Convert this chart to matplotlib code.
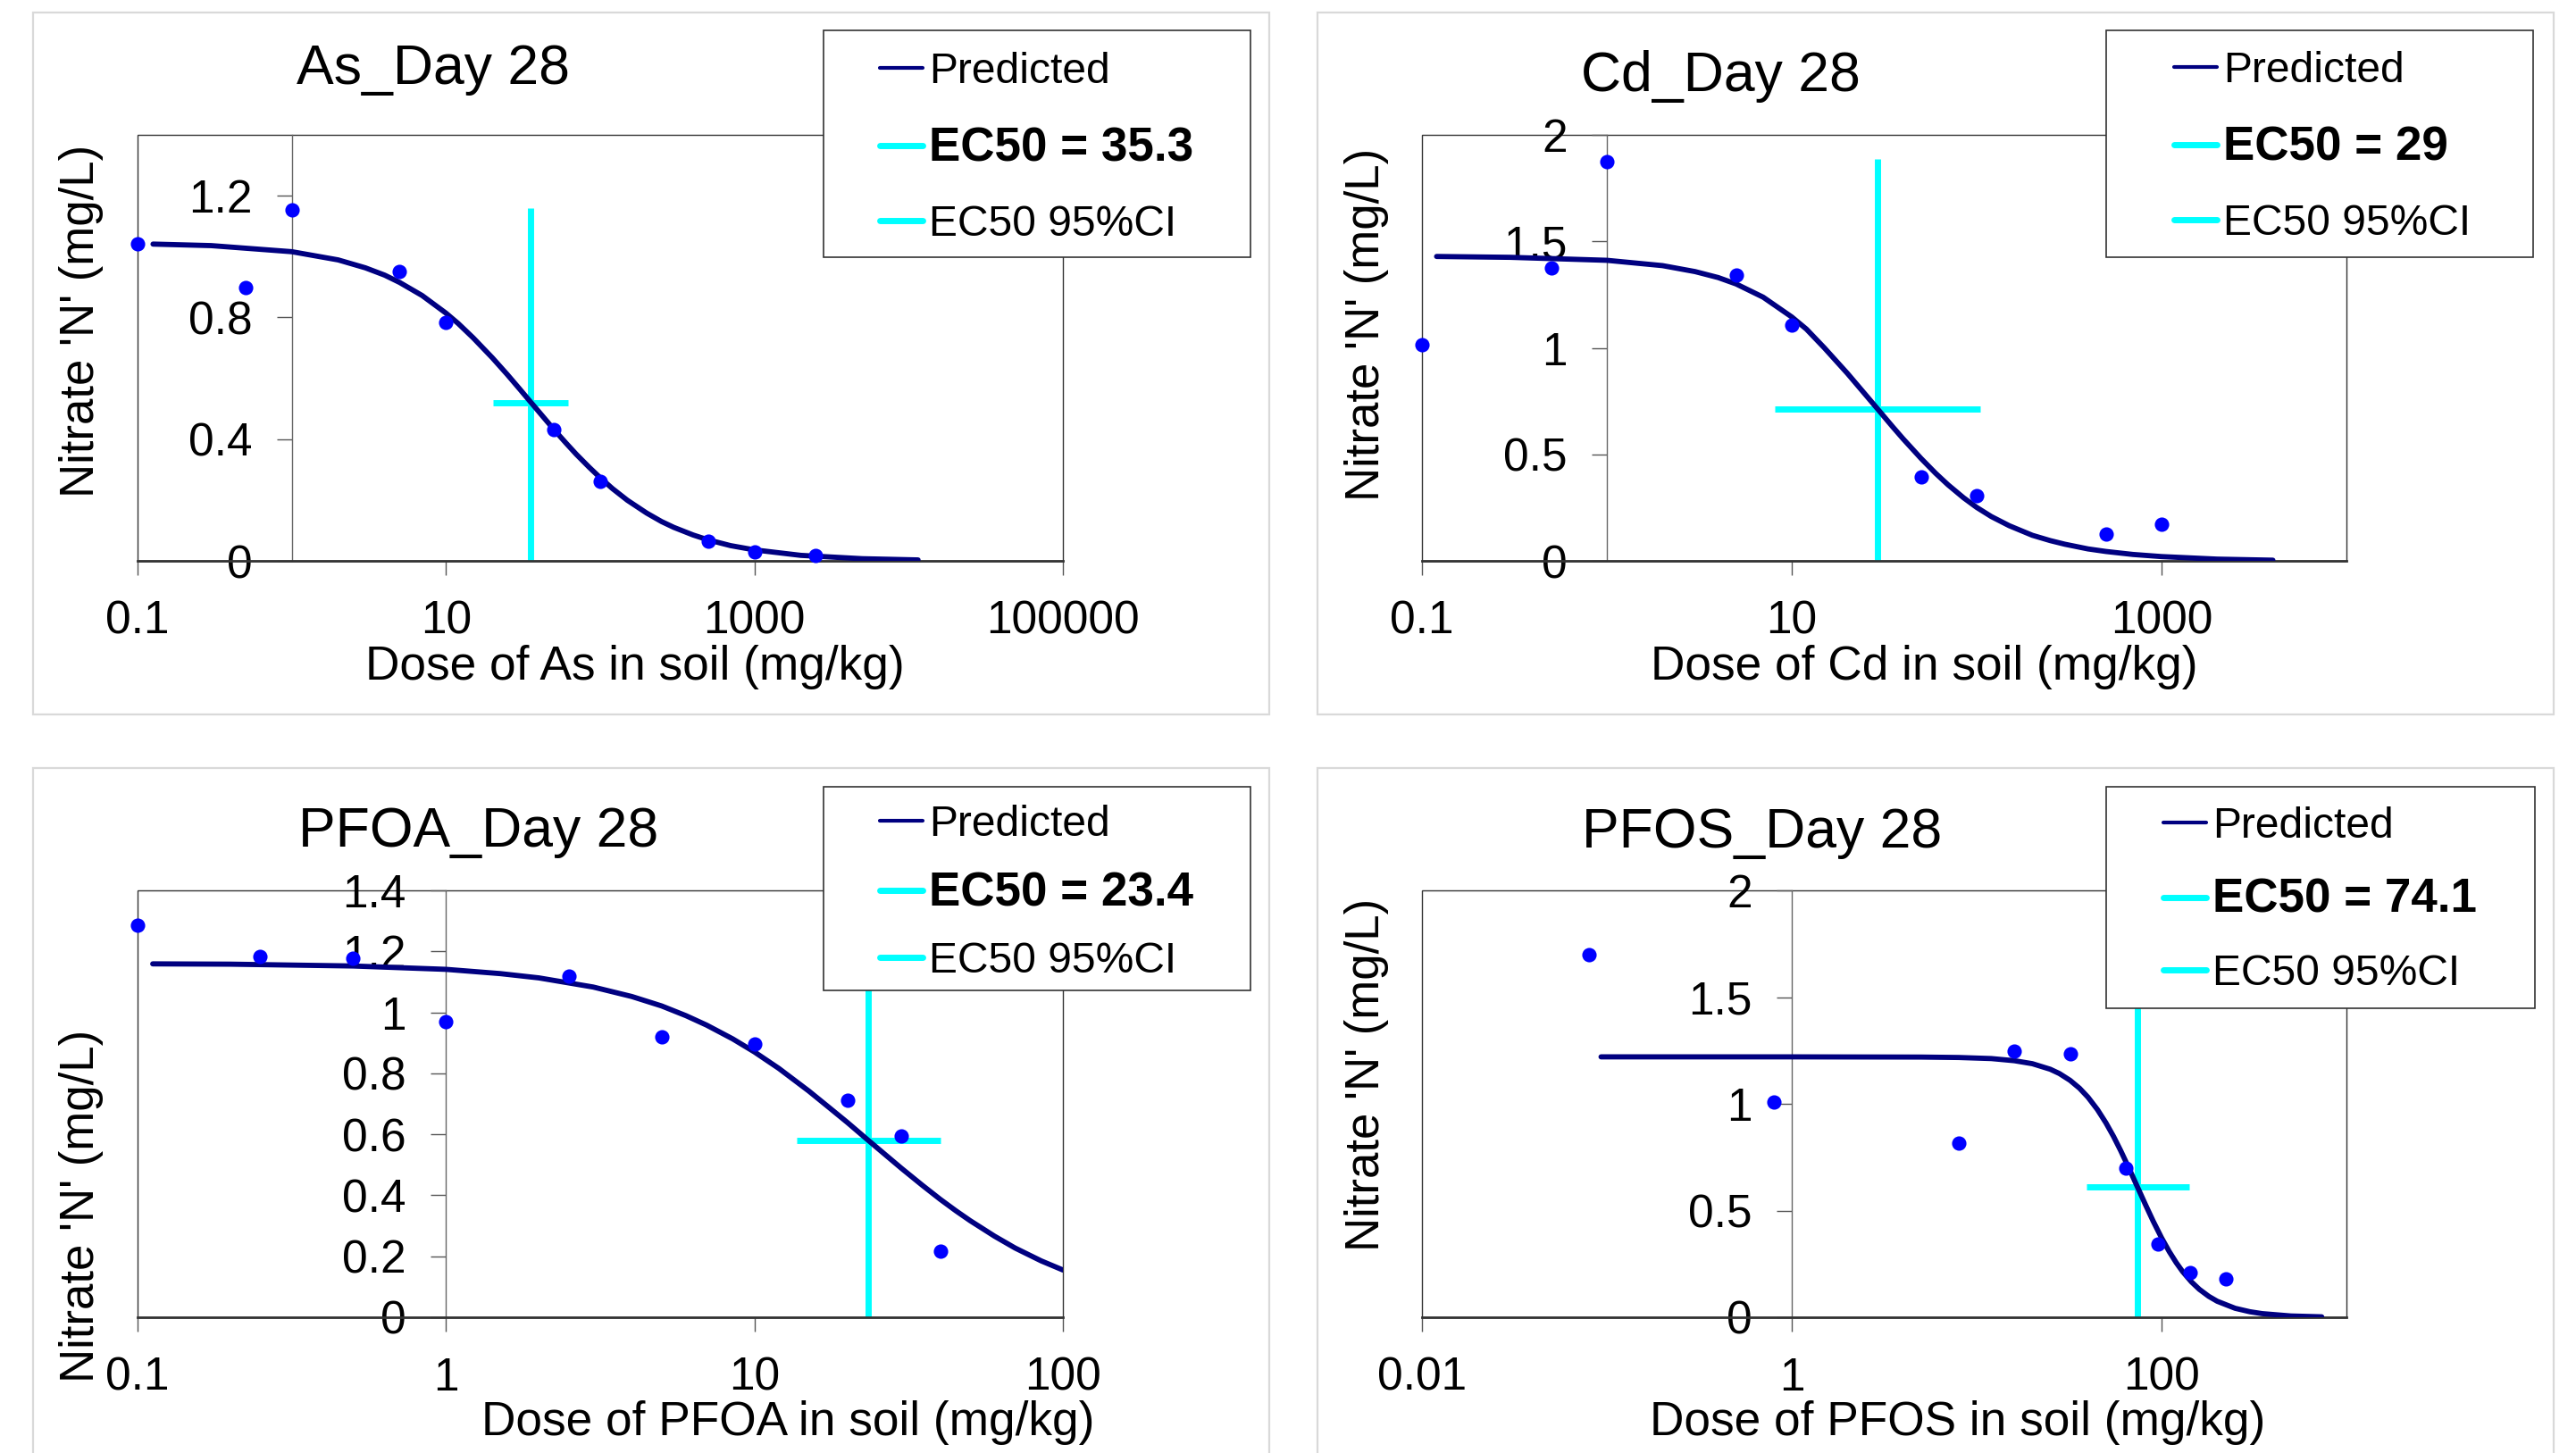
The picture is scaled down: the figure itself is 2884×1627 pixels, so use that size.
import matplotlib.pyplot as plt
from matplotlib.lines import Line2D
from matplotlib.patches import Rectangle
from matplotlib.ticker import FixedLocator, FixedFormatter, NullLocator

plt.rcParams['font.family'] = ['Liberation Sans', 'DejaVu Sans']

NAVY = '#000080'
CYAN = '#00FFFF'
BLUE = '#0000FF'

# ---- As ----
as_dose = [0.1, 0.5, 1, 5, 10, 50, 100, 500, 1000, 2500]
as_obs = [1.041, 0.898, 1.152, 0.950, 0.785, 0.431, 0.260, 0.064, 0.029, 0.019]
as_fit_x = [0.126, 0.3, 1, 2, 3, 4, 5, 7, 10, 12, 15, 20, 25, 30, 35.3, 40,
            50, 60, 70, 85, 100, 120, 150, 200, 250, 300, 400, 500, 700,
            1000, 2000, 5000, 11500]
as_fit_y = [1.041, 1.036, 1.016, 0.989, 0.963, 0.939, 0.915, 0.872, 0.814,
            0.780, 0.733, 0.667, 0.612, 0.565, 0.5225, 0.490, 0.432, 0.387,
            0.350, 0.307, 0.273, 0.2375, 0.199, 0.157, 0.129, 0.110, 0.085,
            0.069, 0.050, 0.036, 0.018, 0.007, 0.003]
as_ec50 = 35.3
as_ec50_span = [0, 1.158]
as_ci = [20.1, 61.8]
as_half = 0.519

# ---- Cd ----
cd_dose = [0.1, 0.5, 1, 5, 10, 50, 100, 500, 1000]
cd_obs = [1.013, 1.376, 1.876, 1.343, 1.109, 0.393, 0.306, 0.124, 0.174]
cd_fit_x = [0.12, 0.3, 1, 2, 3, 4, 5, 7, 10, 12, 15, 20, 25, 29, 35, 40, 50,
            60, 70, 85, 100, 120, 150, 200, 250, 300, 400, 500, 700, 1000,
            2000, 4000]
cd_fit_y = [1.429, 1.425, 1.411, 1.386, 1.358, 1.330, 1.300, 1.238, 1.145,
            1.088, 1.000, 0.880, 0.781, 0.715, 0.631, 0.573, 0.481, 0.411,
            0.357, 0.296, 0.251, 0.208, 0.165, 0.120, 0.095, 0.078, 0.056,
            0.044, 0.030, 0.020, 0.008, 0.003]
cd_ec50 = 29
cd_ec50_span = [0, 1.888]
cd_ci = [8.1, 104]
cd_half = 0.714

# ---- PFOA ----
pfoa_dose = [0.1, 0.25, 0.5, 1, 2.5, 5, 10, 20, 30, 40]
pfoa_obs = [1.286, 1.184, 1.178, 0.969, 1.120, 0.921, 0.895, 0.711, 0.596, 0.216]
pfoa_fit_x = [0.112, 0.2, 0.5, 1, 1.5, 2, 3, 4, 5, 6, 7, 8.5, 10, 12, 15,
              17.5, 20, 23.4, 27, 30, 35, 40, 45, 50, 60, 70, 85, 100]
pfoa_fit_y = [1.159, 1.158, 1.152, 1.141, 1.127, 1.113, 1.083, 1.052, 1.021,
              0.989, 0.958, 0.913, 0.870, 0.816, 0.742, 0.687, 0.639, 0.580,
              0.527, 0.488, 0.433, 0.387, 0.349, 0.317, 0.266, 0.227, 0.185,
              0.155]
pfoa_ec50 = 23.4
pfoa_ec50_span = [0, 1.286]
pfoa_ci = [13.7, 40.2]
pfoa_half = 0.580

# ---- PFOS ----
pfos_dose = [0.08, 0.8, 8, 16, 32, 64, 96, 143, 223]
pfos_obs = [1.699, 1.008, 0.814, 1.246, 1.233, 0.700, 0.343, 0.211, 0.178]
pfos_fit_x = [0.093, 1, 5, 8, 12, 16, 20, 25, 28, 32, 36, 40, 45, 50, 55, 60,
              67, 74.1, 82, 90, 100, 110, 120, 130, 145, 160, 180, 200, 250,
              300, 350, 500, 735]
pfos_fit_y = [1.220, 1.220, 1.219, 1.217, 1.212, 1.202, 1.188, 1.162, 1.142,
              1.110, 1.073, 1.031, 0.973, 0.911, 0.847, 0.782, 0.694, 0.610,
              0.526, 0.451, 0.372, 0.308, 0.256, 0.214, 0.166, 0.131, 0.098,
              0.075, 0.042, 0.026, 0.017, 0.006, 0.002]
pfos_ec50 = 74.1
pfos_ec50_span = [0, 1.699]
pfos_ci = [39.2, 140.6]
pfos_half = 0.610

# ticks
as_xticks = [0.1, 10, 1000, 100000]
as_xticklabels = ['0.1', '10', '1000', '100000']
as_yticks = [0, 0.4, 0.8, 1.2]
as_yticklabels = ['0', '0.4', '0.8', '1.2']
cd_xticks = [0.1, 10, 1000]
cd_xticklabels = ['0.1', '10', '1000']
cd_yticks = [0, 0.5, 1, 1.5, 2]
cd_yticklabels = ['0', '0.5', '1', '1.5', '2']
pfoa_xticks = [0.1, 1, 10, 100]
pfoa_xticklabels = ['0.1', '1', '10', '100']
pfoa_yticks = [0, 0.2, 0.4, 0.6, 0.8, 1, 1.2, 1.4]
pfoa_yticklabels = ['0', '0.2', '0.4', '0.6', '0.8', '1', '1.2', '1.4']
pfos_xticks = [0.01, 1, 100]
pfos_xticklabels = ['0.01', '1', '100']
pfos_yticks = [0, 0.5, 1, 1.5, 2]
pfos_yticklabels = ['0', '0.5', '1', '1.5', '2']

legend_labels = ['Predicted', 'EC50 = {}', 'EC50 95%CI']


def draw_panel(ax, dose, obs, fit_x, fit_y, ec50, ec50_span, ci, half,
               xlim, ylim, xticks, xticklabels, yticks, yticklabels):
    """Excel style dose-response panel, y axis crossing at x = 1."""
    ax.set_xscale('log')
    ax.set_xlim(xlim)
    ax.set_ylim(ylim)

    # EC50 cross, then fitted curve, then observations
    ax.plot([ec50, ec50], ec50_span, color=CYAN, lw=2.5,
            solid_capstyle='butt', zorder=2)
    ax.plot(ci, [half, half], color=CYAN, lw=2.5,
            solid_capstyle='butt', zorder=2)
    ax.plot(fit_x, fit_y, color=NAVY, lw=2.1, zorder=3,
            solid_capstyle='round', solid_joinstyle='round')
    ax.plot(dose, obs, 'o', color=BLUE, ms=4.8, mec=BLUE, zorder=4,
            clip_on=False)

    ax.xaxis.set_major_locator(FixedLocator(xticks))
    ax.xaxis.set_major_formatter(FixedFormatter(xticklabels))
    ax.xaxis.set_minor_locator(NullLocator())
    ax.yaxis.set_major_locator(FixedLocator(yticks))
    ax.yaxis.set_major_formatter(FixedFormatter(yticklabels))
    ax.yaxis.set_minor_locator(NullLocator())

    ax.spines['left'].set_position(('data', 1))
    ax.spines['left'].set_color('#666666')
    ax.spines['left'].set_linewidth(0.5)
    ax.spines['bottom'].set_color('#333333')
    ax.spines['bottom'].set_linewidth(1.0)
    ax.spines['top'].set_visible(False)
    ax.spines['right'].set_visible(False)
    ax.add_patch(Rectangle((0, 0), 1, 1, transform=ax.transAxes, fill=False,
                           ec='#333333', lw=0.5, clip_on=False, zorder=1))

    ax.tick_params(axis='x', direction='out', length=5.8, width=0.5,
                   color='#555555', pad=10, labelsize=18.5)
    ax.tick_params(axis='y', direction='out', length=6, width=0.5,
                   color='#555555', pad=10, labelsize=18.5)


fig = plt.figure(figsize=(14.42, 8.135), dpi=200)
W, H = 2884, 1627

# chart area borders (pixels: left, top, right, bottom)
for l, t, r, b in [(37, 14, 1421, 800), (1475, 14, 2859, 800),
                   (37, 860, 1421, 1640), (1475, 860, 2859, 1640)]:
    fig.patches.append(Rectangle((l / W, 1 - b / H), (r - l) / W, (b - t) / H,
                                 transform=fig.transFigure, fill=False,
                                 ec='#d9d9d9', lw=0.8))

panels = [
    dict(box=(154, 151, 1190, 628),
         data=(as_dose, as_obs, as_fit_x, as_fit_y, as_ec50, as_ec50_span,
               as_ci, as_half),
         xlim=(0.1, 100000), ylim=(0, 1.4),
         ticks=(as_xticks, as_xticklabels, as_yticks, as_yticklabels),
         title='As_Day 28', title_pos=(0.3195, 1.1195),
         xlabel='Dose of As in soil (mg/kg)', xlabel_pos=(0.5376, -0.2788),
         ylabel_pos=(-0.0608, 0.564),
         leg_box=(922, 34, 1400, 288), leg_anchor=(985, 166), leg_space=0.79),
    dict(box=(1592, 151, 2627, 628),
         data=(cd_dose, cd_obs, cd_fit_x, cd_fit_y, cd_ec50, cd_ec50_span,
               cd_ci, cd_half),
         xlim=(0.1, 10000), ylim=(0, 2),
         ticks=(cd_xticks, cd_xticklabels, cd_yticks, cd_yticklabels),
         title='Cd_Day 28', title_pos=(0.3227, 1.1027),
         xlabel='Dose of Cd in soil (mg/kg)', xlabel_pos=(0.543, -0.2788),
         ylabel_pos=(-0.0599, 0.5556),
         leg_box=(2358, 34, 2836, 288), leg_anchor=(2434, 165), leg_space=0.79),
    dict(box=(154, 997, 1190, 1475),
         data=(pfoa_dose, pfoa_obs, pfoa_fit_x, pfoa_fit_y, pfoa_ec50,
               pfoa_ec50_span, pfoa_ci, pfoa_half),
         xlim=(0.1, 100), ylim=(0, 1.4),
         ticks=(pfoa_xticks, pfoa_xticklabels, pfoa_yticks, pfoa_yticklabels),
         title='PFOA_Day 28', title_pos=(0.3687, 1.1025),
         xlabel='Dose of PFOA in soil (mg/kg)', xlabel_pos=(0.7027, -0.2762),
         ylabel_pos=(-0.0608, 0.2615),
         leg_box=(922, 881, 1400, 1109), leg_anchor=(985, 1000), leg_space=0.60),
    dict(box=(1592, 997, 2627, 1475),
         data=(pfos_dose, pfos_obs, pfos_fit_x, pfos_fit_y, pfos_ec50,
               pfos_ec50_span, pfos_ci, pfos_half),
         xlim=(0.01, 1000), ylim=(0, 2),
         ticks=(pfos_xticks, pfos_xticklabels, pfos_yticks, pfos_yticklabels),
         title='PFOS_Day 28', title_pos=(0.3681, 1.1004),
         xlabel='Dose of PFOS in soil (mg/kg)', xlabel_pos=(0.5797, -0.2762),
         ylabel_pos=(-0.0599, 0.568),
         leg_box=(2358, 881, 2838, 1129), leg_anchor=(2422, 1008), leg_space=0.73),
]

for p in panels:
    l, t, r, b = p['box']
    ax = fig.add_axes([l / W, 1 - b / H, (r - l) / W, (b - t) / H])
    draw_panel(ax, *p['data'], p['xlim'], p['ylim'], *p['ticks'])

    ax.set_title(p['title'], fontsize=22.5, x=p['title_pos'][0],
                 y=p['title_pos'][1], va='baseline', pad=0)
    ax.set_xlabel(p['xlabel'], fontsize=19.2)
    ax.xaxis.label.set_va('baseline')
    ax.xaxis.set_label_coords(*p['xlabel_pos'])
    ax.set_ylabel("Nitrate 'N' (mg/L)", fontsize=19)
    ax.yaxis.label.set_va('center')
    ax.yaxis.set_label_coords(*p['ylabel_pos'])

    # legend box drawn as a white rectangle, legend entries on top
    l, t, r, b = p['leg_box']
    fig.patches.append(Rectangle((l / W, 1 - b / H), (r - l) / W, (b - t) / H,
                                 transform=fig.transFigure, fc='white',
                                 ec='#333333', lw=0.6, zorder=4))
    handles = [Line2D([], [], color=NAVY, lw=1.5, solid_capstyle='round'),
               Line2D([], [], color=CYAN, lw=2.5, solid_capstyle='round'),
               Line2D([], [], color=CYAN, lw=2.5, solid_capstyle='round')]
    labels = [legend_labels[0], legend_labels[1].format(p['data'][4]),
              legend_labels[2]]
    ax_, ay_ = p['leg_anchor']
    leg = fig.legend(handles, labels, loc='center left',
                     bbox_to_anchor=(ax_ / W, 1 - ay_ / H), frameon=False,
                     borderpad=0, borderaxespad=0, handlelength=1.0,
                     handletextpad=0.15, labelspacing=p['leg_space'],
                     fontsize=17.3)
    leg.set_zorder(5)
    leg.get_texts()[1].set_fontweight('bold')
    leg.get_texts()[1].set_fontsize(19.1)

plt.savefig('out.png', dpi=200)
